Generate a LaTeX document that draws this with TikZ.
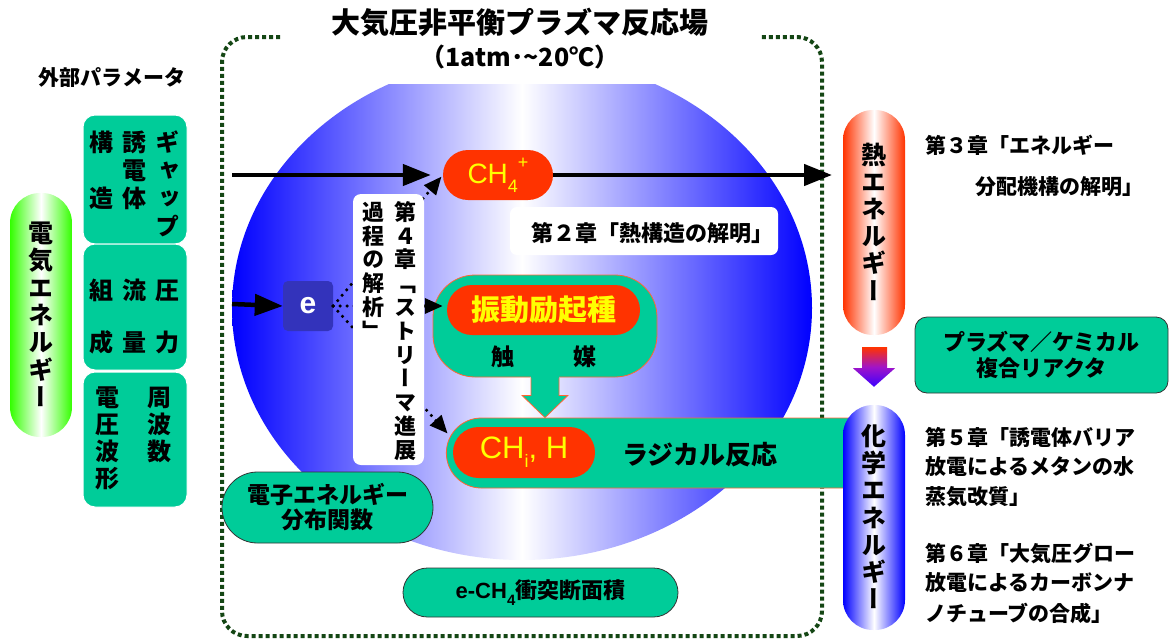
\documentclass[tikz,border=0pt]{standalone}
\usepackage{fontspec}
\setmainfont{Noto Sans CJK JP}
\newfontfamily\vjp{Noto Sans CJK JP}[RawFeature=+vert]
\newfontfamily\lat{Liberation Sans}
\usetikzlibrary{arrows.meta,calc,shapes.misc}
\definecolor{tealg}{RGB}{0,204,153}
\definecolor{redo}{RGB}{255,51,0}
\definecolor{yel}{RGB}{255,255,0}
\definecolor{eblue}{RGB}{51,51,187}
\definecolor{frameg}{RGB}{20,70,20}
\definecolor{elgreen}{RGB}{51,255,0}
\definecolor{pblue}{RGB}{0,0,255}
\definecolor{bred}{RGB}{255,102,51}
\definecolor{midpurple}{RGB}{160,20,200}
\definecolor{lowblue}{RGB}{60,0,255}
\newcommand\vst[2]{\vbox{\baselineskip=#1\lineskip=0pt\lineskiplimit=-100pt\vstI#2\relax}}
\def\vstI#1{\ifx\relax#1\else\hbox to 1em{\hss#1\hss\vrule height .88em depth .12em width 0pt}\expandafter\vstI\fi}
\newcommand\fsz[1]{\fontsize{#1}{#1}\selectfont}
\tikzset{
  frameline/.style={line width=4pt, color=frameg, dash pattern=on 4pt off 3pt},
  pbox/.style={fill=tealg, draw=white, line width=1pt, rounded corners=12pt, minimum width=104pt, inner sep=0pt},
  vtxt/.style={inner sep=0pt, font=\vjp\bfseries\fsz{24}},
  vpill/.style={rounded corners=30pt, minimum width=62pt, inner sep=0pt, font=\vjp\bfseries\fsz{25}},
  redpill/.style={rounded rectangle, fill=redo, text=yel, inner sep=0pt},
  gbox/.style={fill=tealg, draw=black!80, line width=0.8pt, inner sep=0pt, align=center, font=\bfseries\fsz{22}},
  jtxt/.style={inner sep=0pt, font=\bfseries\fsz{21}},
  bigarrow/.style={line width=4.5pt, -{Triangle[length=28pt,width=21pt]}},
  dotarrow/.style={line width=3.5pt, dash pattern=on 0pt off 7pt, line cap=round, -{Triangle[length=18pt,width=15pt]}},
}
\begin{document}
\begin{tikzpicture}[x=1pt,y=-1pt]
\useasboundingbox (0,0) rectangle (1171,641);
% plasma field
\begin{scope}
\clip (0,84) rectangle (1171,641);
\shade[left color=pblue, right color=pblue, middle color=white] (522,308) ellipse [x radius=290, y radius=252];
\end{scope}
\draw[frameline, rounded corners=25pt] (280,37) -- (222,37) -- (222,636) -- (822,636) -- (822,37) -- (760,37);
\node[inner sep=0pt, font=\bfseries\fsz{29}] (title) at (520,22) {大気圧非平衡プラズマ反応場};
\node[inner sep=0pt, font=\bfseries\fsz{25}] (cond) at (520,57) {（1atm･\textasciitilde20℃）};
% external parameters
\node[jtxt] (ext) at (112,78) {外部パラメータ};
\node[pbox, minimum height=129pt] (p1) at (135,179.5) {};
\node[pbox, minimum height=126pt] (p2) at (135,307) {};
\node[pbox, minimum height=135pt] (p3) at (135,439.5) {};
\node[vtxt] (t1a) at (101,170) {\vst{28pt}{構\null 造}};
\node[vtxt] (t1b) at (134,170) {\vst{28pt}{誘電体}};
\node[vtxt] (t1c) at (167,184) {\vst{28pt}{ギャップ}};
\node[vtxt] (t2a) at (101,316) {\vst{52pt}{組成}};
\node[vtxt] (t2b) at (134,316) {\vst{52pt}{流量}};
\node[vtxt] (t2c) at (167,316) {\vst{52pt}{圧力}};
\node[vtxt] (t3a) at (107,437.5) {\vst{27pt}{電圧波形}};
\node[vtxt] (t3b) at (159,424) {\vst{27pt}{周波数}};
\node[vpill, left color=elgreen, right color=elgreen, middle color=white, minimum height=244pt] (elec) at (41,315) {\vst{27.3pt}{電気エネルギー}};
% nodes inside field
\node[fill=eblue, rounded corners=5pt, minimum size=50pt, inner sep=0pt, text=white, font=\lat\bfseries\fsz{30}] (e) at (308,306) {e};
\node[redpill, minimum width=110pt, minimum height=50pt, font=\lat\fsz{28}] (ch4) at (498,175) {CH\raisebox{-0.3em}{\fsz{18}4}\raisebox{0.55em}{\fsz{18}+}};
\node[fill=tealg, draw=bred, line width=0.8pt, rounded corners=42pt, minimum width=224pt, minimum height=102pt] (vib) at (545,326) {};
\node[redpill, minimum width=193pt, minimum height=50pt, font=\bfseries\fsz{29}] (vibin) at (543.5,310) {振動励起種};
\node[jtxt, font=\bfseries\fsz{23}] (sho) at (503,357) {触};
\node[jtxt, font=\bfseries\fsz{23}] (bai) at (585,357) {媒};
\node[rounded rectangle, rounded rectangle east arc=none, fill=tealg, draw=bred, line width=0.8pt, minimum width=457pt, minimum height=70pt] (rad) at (671.5,453) {};
\node[redpill, minimum width=142pt, minimum height=51pt, font=\lat\fsz{31}] (chi) at (524,452.5) {CH\raisebox{-0.3em}{\fsz{18}i}, H};
\node[jtxt, font=\bfseries\fsz{26}] (radtxt) at (700,455) {ラジカル反応};
% block arrow vib -> rad
\fill[tealg] ($(vib.south)+(-14,-2)$) -- ($(vib.south)+(14,-2)$) -- ($(vib.south)+(14,18)$) -- ($(vib.south)+(23,18)$) -- (vib.south |- rad.north) -- ($(vib.south)+(-23,18)$) -- ($(vib.south)+(-14,18)$) -- cycle;
\draw[bred, line width=0.8pt, line join=miter] ($(vib.south)+(-14,0.5)$) -- ($(vib.south)+(-14,18)$) -- ($(vib.south)+(-23,18)$) -- (vib.south |- rad.north) -- ($(vib.south)+(23,18)$) -- ($(vib.south)+(14,18)$) -- ($(vib.south)+(14,0.5)$);
% dotted arrows from e
\draw[dotarrow, shorten >=2pt] (e.east) -- (ch4.west);
\draw[dotarrow, shorten >=4pt] (e.east) -- (e.east -| vibin.west);
\coordinate (radin) at ($(rad.west)+(3,-18)$);
\draw[dotarrow, shorten >=2pt] (e.east) -- (radin);
% chapter 4 box
\node[fill=white, rounded corners=8pt, minimum width=71pt, minimum height=271pt, inner sep=0pt] (c4box) at (388.5,329.5) {};
\node[vtxt, font=\vjp\bfseries\fsz{22}] (c4r) at (405,331) {\vst{23.8pt}{第４章「ストリーマ進展}};
\node[vtxt, font=\vjp\bfseries\fsz{22}] (c4l) at (373,271.5) {\vst{23.8pt}{過程の解析」}};
% solid arrows
\coordinate (inA) at (232,175);
\coordinate (inB) at (232,304);
\coordinate (outA) at (832,175);
\draw[bigarrow, shorten >=12pt] (inA) -- (ch4.west);
\draw[bigarrow] (inB) -- (e.west);
\draw[bigarrow] (ch4.east) -- (outA);
% chapter 2
\node[fill=white, rounded corners=7pt, minimum width=268pt, minimum height=48pt, inner sep=0pt] (c2box) at (644,231) {};
\node[jtxt, font=\bfseries\fsz{22}] (c2) at (652,233) {第２章「熱構造の解明」};
% lower boxes
\node[gbox, rounded rectangle, minimum width=211pt, minimum height=71pt, font=\bfseries\fsz{23}] (eedf) at (327.5,507.5) {電子エネルギー\\[2pt]分布関数};
\node[gbox, rounded rectangle, minimum width=275pt, minimum height=49pt] (cross) at (540.5,592.5) {{\lat\bfseries e-CH\raisebox{-0.3em}{\fsz{15}4}}衝突断面積};
% energy pills
\node[vpill, left color=redo, right color=redo, middle color=white, minimum height=225pt] (heat) at (874,222.5) {\vst{27.2pt}{熱エネルギー}};
\node[vpill, left color=pblue, right color=pblue, middle color=white, minimum height=225pt] (chem) at (874,517.5) {\vst{27.2pt}{化学エネルギー}};
\shade[top color=redo, bottom color=lowblue, middle color=midpurple] ($(heat.south)+(-12,12)$) -- ($(heat.south)+(13,12)$) -- ($(heat.south)+(13,33)$) -- ($(heat.south)+(21,33)$) -- ($(chem.north)+(0,-18)$) -- ($(heat.south)+(-21,33)$) -- ($(heat.south)+(-12,33)$) -- cycle;
\node[gbox, rounded corners=12pt, minimum width=253pt, minimum height=76pt] (reactor) at (1041.5,355) {プラズマ／ケミカル\\[4pt]複合リアクタ};
% chapter texts
\node[jtxt, anchor=west] (c3a) at (925,145) {第３章「エネルギー};
\node[jtxt, anchor=west] (c3b) at (975,187) {分配機構の解明」};
\node[jtxt, anchor=west] (c5a) at (925,437) {第５章「誘電体バリア};
\node[jtxt, anchor=west] (c5b) at (925,467) {放電によるメタンの水};
\node[jtxt, anchor=west] (c5c) at (925,497) {蒸気改質」};
\node[jtxt, anchor=west] (c6a) at (925,553) {第６章「大気圧グロー};
\node[jtxt, anchor=west] (c6b) at (925,583) {放電によるカーボンナ};
\node[jtxt, anchor=west] (c6c) at (925,613) {ノチューブの合成」};
\end{tikzpicture}
\end{document}
